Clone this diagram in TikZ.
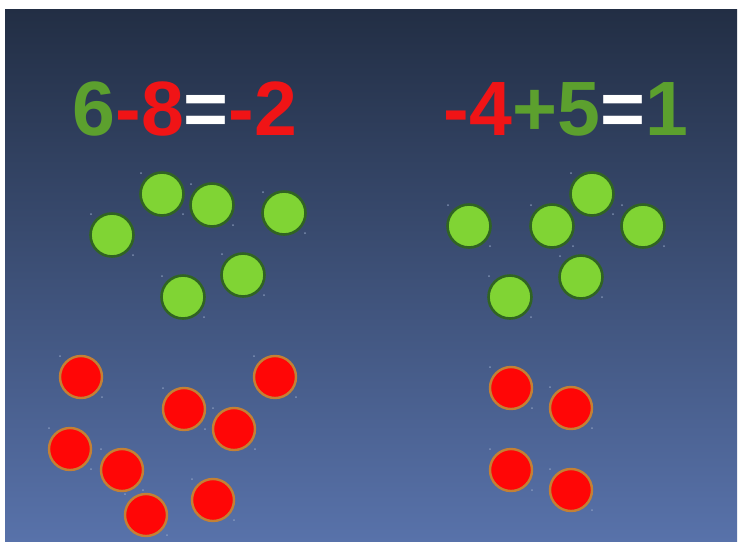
\documentclass[tikz,border=0pt]{standalone}
\usepackage{fontspec}
\setmainfont{Liberation Sans}
\definecolor{bgtop}{RGB}{34,46,68}
\definecolor{bgbot}{RGB}{88,114,170}
\definecolor{numgreen}{RGB}{92,160,46}
\definecolor{numred}{RGB}{240,20,22}
\definecolor{ballgreen}{RGB}{128,212,52}
\definecolor{ballgreenrim}{RGB}{48,100,34}
\definecolor{ballred}{RGB}{255,6,6}
\definecolor{ballredrim}{RGB}{196,128,52}
\definecolor{handle}{RGB}{150,168,200}
\tikzset{
  eqn/.style={anchor=base, inner sep=0pt, font=\bfseries\fontsize{77}{80}\selectfont},
  greenball/.style={circle, fill=ballgreen, draw=ballgreenrim, line width=2.6pt, minimum size=43pt, inner sep=0pt},
  redball/.style={circle, fill=ballred, draw=ballredrim, line width=2.4pt, minimum size=42pt, inner sep=0pt},
  handledot/.style={fill=handle, opacity=0.7}
}
\newcommand{\ball}[4]{% style, name, x, y
  \node[#1] (#2) at (#3,#4) {};
  \fill[handledot] ($(#2.center)+(-21,-21)$) circle (1pt);
  \fill[handledot] ($(#2.center)+(21,20)$) circle (1pt);
}
\usetikzlibrary{calc}
\begin{document}
\begin{tikzpicture}[x=1pt,y=-1pt]
  % page and backdrop
  \fill[white] (0,0) rectangle (739,542);
  \useasboundingbox (0,0) rectangle (739,542);
  \shade[top color=bgtop, bottom color=bgbot] (5,9) rectangle (737,541);

  % equations
  \node[eqn] (eqleft) at (185,135) {\textcolor{numgreen}{6}\textcolor{numred}{-8}\textcolor{white}{=}\textcolor{numred}{-2}};
  \node[eqn] (eqright) at (566,135) {\textcolor{numred}{-4}\textcolor{numgreen}{+5}\textcolor{white}{=}\textcolor{numgreen}{1}};

  % left group: six positive counters
  \ball{greenball}{gl1}{112}{235}
  \ball{greenball}{gl2}{162}{194}
  \ball{greenball}{gl3}{212}{205}
  \ball{greenball}{gl4}{284}{213}
  \ball{greenball}{gl5}{243}{275}
  \ball{greenball}{gl6}{183}{297}

  % left group: eight negative counters
  \ball{redball}{rl1}{81}{377}
  \ball{redball}{rl2}{275}{377}
  \ball{redball}{rl3}{184}{409}
  \ball{redball}{rl4}{234}{429}
  \ball{redball}{rl5}{70}{449}
  \ball{redball}{rl6}{122}{470}
  \ball{redball}{rl7}{146}{515}
  \ball{redball}{rl8}{213}{500}

  % right group: six positive counters
  \ball{greenball}{gr1}{469}{226}
  \ball{greenball}{gr2}{552}{226}
  \ball{greenball}{gr3}{592}{194}
  \ball{greenball}{gr4}{643}{226}
  \ball{greenball}{gr5}{581}{277}
  \ball{greenball}{gr6}{510}{297}

  % right group: four negative counters
  \ball{redball}{rr1}{511}{388}
  \ball{redball}{rr2}{571}{408}
  \ball{redball}{rr3}{511}{470}
  \ball{redball}{rr4}{571}{490}
\end{tikzpicture}
\end{document}
